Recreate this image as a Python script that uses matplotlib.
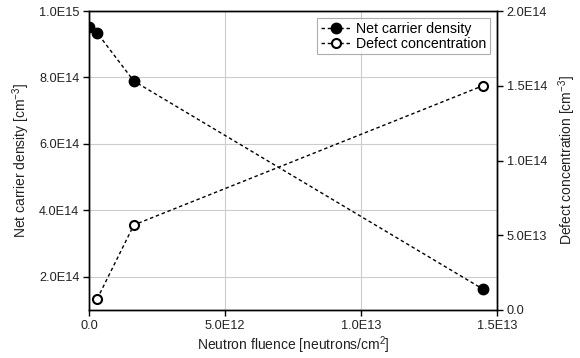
import matplotlib
matplotlib.use("Agg")
import matplotlib.pyplot as plt

plt.rcParams['font.family'] = ['Liberation Sans', 'DejaVu Sans']
plt.rcParams['mathtext.fontset'] = 'custom'
plt.rcParams['mathtext.rm'] = 'Liberation Sans'
plt.rcParams['mathtext.it'] = 'Liberation Sans:italic'
plt.rcParams['mathtext.bf'] = 'Liberation Sans:bold'

# Data
fluence_net = [1.0e10, 3.0e11, 1.65e12, 1.448e13]
net_carrier = [9.52e14, 9.34e14, 7.89e14, 1.63e14]
fluence_def = [3.0e11, 1.65e12, 1.448e13]
defect_conc = [7.4e12, 5.69e13, 1.50e14]

x_ticks = [0.0, 5.0e12, 1.0e13, 1.5e13]
x_labels = ['0.0', '5.0E12', '1.0E13', '1.5E13']
yl_ticks = [2.0e14, 4.0e14, 6.0e14, 8.0e14, 1.0e15]
yl_labels = ['2.0E14', '4.0E14', '6.0E14', '8.0E14', '1.0E15']
yr_ticks = [0.0, 5.0e13, 1.0e14, 1.5e14, 2.0e14]
yr_labels = ['0.0', '5.0E13', '1.0E14', '1.5E14', '2.0E14']

fig = plt.figure(figsize=(5.8, 3.58), dpi=100)
ax = fig.add_axes([89/580, 1-310/358, (497-89)/580, (310-11)/358])
ax2 = ax.twinx()

fs = 9.2
lfs = 10.0
l1, = ax.plot(fluence_net, net_carrier, linestyle=(0, (2.5, 2)), color='black', lw=1.0,
              marker='o', markersize=7.5, markerfacecolor='black', markeredgecolor='black',
              label='Net carrier density', zorder=3)
l2, = ax2.plot(fluence_def, defect_conc, linestyle=(0, (2.5, 2)), color='black', lw=1.0,
               marker='o', markersize=6.5, markerfacecolor='white', markeredgecolor='black',
               markeredgewidth=1.5, label='Defect concentration', zorder=3)

ax.set_xlim(0, 1.5e13)
ax.set_ylim(1.0e14, 1.0e15)
ax2.set_ylim(0, 2.0e14)

ax.set_xticks(x_ticks)
ax.set_xticklabels(x_labels)
ax.set_yticks(yl_ticks)
ax.set_yticklabels(yl_labels)
ax2.set_yticks(yr_ticks)
ax2.set_yticklabels(yr_labels)

ax.grid(True, color='#cccccc', lw=0.8)
ax.set_axisbelow(True)

for a in (ax, ax2):
    a.tick_params(direction='out', length=4, width=1, labelsize=fs, colors='black',
                  labelcolor='#222222', pad=3)
    for s in a.spines.values():
        s.set_linewidth(1.0)
        s.set_color('black')

ax.set_xlabel('Neutron fluence [neutrons/cm$^2$]', fontsize=lfs, color='#222222', labelpad=2)
ax.set_ylabel('Net carrier density [cm$^{-3}$]', fontsize=lfs, color='#222222', labelpad=5)
ax2.set_ylabel('Defect concentration [cm$^{-3}$]', fontsize=lfs, color='#222222', labelpad=7)

leg = ax2.legend(handles=[l1, l2], loc='upper right', bbox_to_anchor=(0.99, 0.985),
                 fontsize=10.2, frameon=True, fancybox=False, edgecolor='#999999',
                 handlelength=2.2, handletextpad=0.3, borderpad=0.25, labelspacing=0.05,
                 borderaxespad=0.2)
leg.get_frame().set_linewidth(0.8)

fig.savefig('out.png', dpi=100)
